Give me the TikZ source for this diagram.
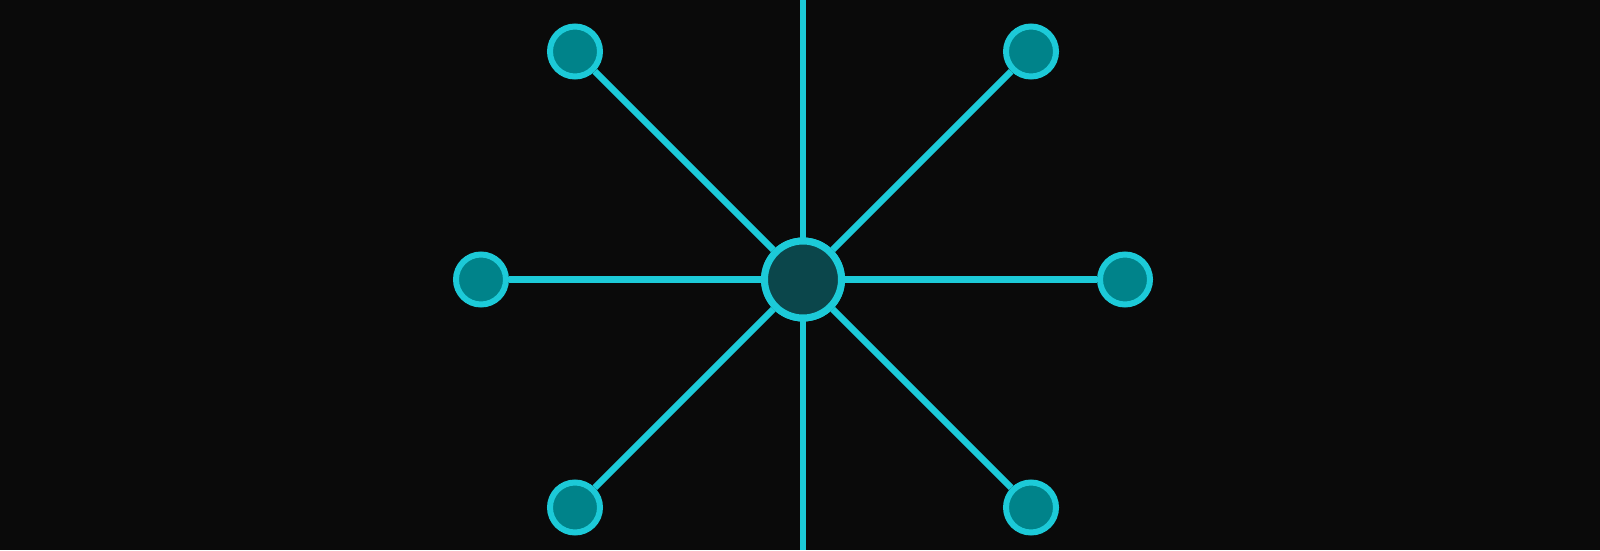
\documentclass[tikz,border=0pt]{standalone}
\begin{document}
\begin{tikzpicture}[x=1pt,y=1pt,
  spoke/.style={draw=cyanline,line width=6.5pt},
  leaf/.style={circle,draw=cyanline,line width=6pt,fill=leaffill,minimum size=50pt,inner sep=0pt},
  hub/.style={circle,draw=cyanline,line width=7pt,fill=hubfill,minimum size=77pt,inner sep=0pt}]
\definecolor{bg}{HTML}{0A0A0A}
\definecolor{cyanline}{HTML}{1CCAD8}
\definecolor{leaffill}{HTML}{00838A}
\definecolor{hubfill}{HTML}{0B464B}
\fill[bg] (0,0) rectangle (1600,550);
\useasboundingbox (0,0) rectangle (1600,550);
\coordinate (top) at (803,550);
\coordinate (bot) at (803,0);
\coordinate (c) at (803,270.5);
\draw[spoke] (top) -- (bot);
\node[hub] (hub) at (c) {};
\node[leaf] (ul) at (575,498.5) {};
\node[leaf] (ur) at (1031,498.5) {};
\node[leaf] (l) at (481,270.5) {};
\node[leaf] (r) at (1125,270.5) {};
\node[leaf] (dl) at (575,42.5) {};
\node[leaf] (dr) at (1031,42.5) {};
\foreach \n in {ul,ur,l,r,dl,dr}{\draw[spoke] (hub) -- (\n);}
\node[hub] at (c) {};
\end{tikzpicture}
\end{document}
